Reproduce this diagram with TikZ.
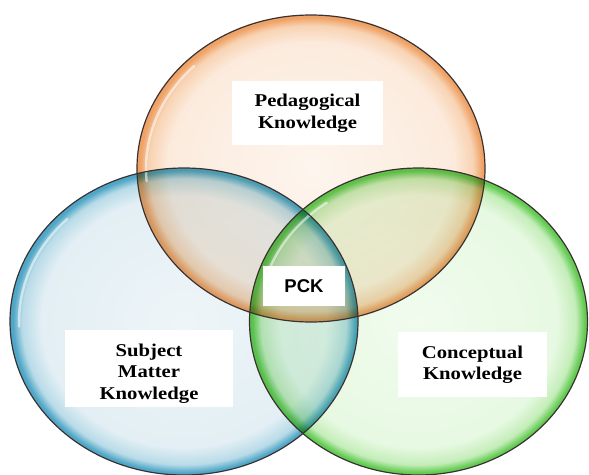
\documentclass[tikz,border=0pt]{standalone}
\usepackage{fontspec}
\usetikzlibrary{calc}
\newfontfamily\knowfont[FakeStretch=1.15]{Liberation Serif}
\newfontfamily\pckfont{Liberation Sans}

\definecolor{pedIn}{HTML}{FDF5EE}
\definecolor{pedMid}{HTML}{FCEBDD}
\definecolor{pedRim}{HTML}{F8D3B3}
\definecolor{pedEdge}{HTML}{EFA266}
\definecolor{subIn}{HTML}{EEF5F8}
\definecolor{subMid}{HTML}{E3EFF4}
\definecolor{subRim}{HTML}{B8DBE8}
\definecolor{subEdge}{HTML}{4FA6C6}
\definecolor{conIn}{HTML}{F1FBEE}
\definecolor{conMid}{HTML}{E7F9E2}
\definecolor{conRim}{HTML}{C4EDB9}
\definecolor{conEdge}{HTML}{62CB51}
\definecolor{rimline}{HTML}{3A3232}

\pgfdeclareradialshading{pedball}{\pgfpointorigin}{color(0bp)=(pedIn); color(20.5bp)=(pedMid); color(23.3bp)=(pedRim); color(24.6bp)=(pedEdge); color(25bp)=(pedEdge); color(50bp)=(pedEdge)}
\pgfdeclareradialshading{subball}{\pgfpointorigin}{color(0bp)=(subIn); color(20.5bp)=(subMid); color(23.3bp)=(subRim); color(24.6bp)=(subEdge); color(25bp)=(subEdge); color(50bp)=(subEdge)}
\pgfdeclareradialshading{conball}{\pgfpointorigin}{color(0bp)=(conIn); color(20.5bp)=(conMid); color(23.3bp)=(conRim); color(24.6bp)=(conEdge); color(25bp)=(conEdge); color(50bp)=(conEdge)}

\tikzset{
  knowbox/.style={fill=white, inner sep=0pt, align=center, font=\knowfont\bfseries\fontsize{18}{21.5}\selectfont},
  pckbox/.style={fill=white, inner sep=0pt, minimum width=82pt, minimum height=40pt, font=\pckfont\bfseries\fontsize{18.5}{22}\selectfont},
  rim/.style={draw=rimline, line width=1.2pt},
  gloss/.style={white, line width=2.5pt, opacity=0.55, line cap=round}
}

\begin{document}
\begin{tikzpicture}[x=1pt,y=-1pt]
    \useasboundingbox (0,0) rectangle (589,474);

    % centres of the three circles
    \coordinate (ped) at (311,168.5);
    \coordinate (sub) at (184,321.5);
    \coordinate (con) at (418.5,321.5);

    % bubble fills
    \shade[shading=subball, blend mode=multiply] (sub) ellipse [x radius=174, y radius=153.5];
    \shade[shading=conball, blend mode=multiply] (con) ellipse [x radius=169, y radius=153.5];
    \shade[shading=pedball, blend mode=multiply] (ped) ellipse [x radius=174, y radius=153.5];

    % glossy highlights
    \draw[gloss] ($(ped)+(175:165 and 145)$) arc [start angle=175, end angle=225, x radius=165, y radius=145];
    \draw[gloss] ($(sub)+(178:165 and 145)$) arc [start angle=178, end angle=225, x radius=165, y radius=145];
    \draw[gloss] ($(con)+(195:160 and 145)$) arc [start angle=195, end angle=235, x radius=160, y radius=145];

    % outlines
    \draw[rim] (sub) ellipse [x radius=174, y radius=153.5];
    \draw[rim] (con) ellipse [x radius=169, y radius=153.5];
    \draw[rim] (ped) ellipse [x radius=174, y radius=153.5];

    % labels
    \node[knowbox, minimum width=151pt, minimum height=64pt] (pedtxt) at (307.5,113) {Pedagogical\\Knowledge};
    \node[knowbox, minimum width=168pt, minimum height=77pt] (subtxt) at (149,368.5) {\rule{0pt}{22pt}Subject\\Matter\\Knowledge};
    \node[knowbox, minimum width=149pt, minimum height=65pt] (contxt) at (472.5,364.5) {Conceptual\\Knowledge};
    \node[pckbox] (pck) at (304,286) {PCK};
\end{tikzpicture}
\end{document}
